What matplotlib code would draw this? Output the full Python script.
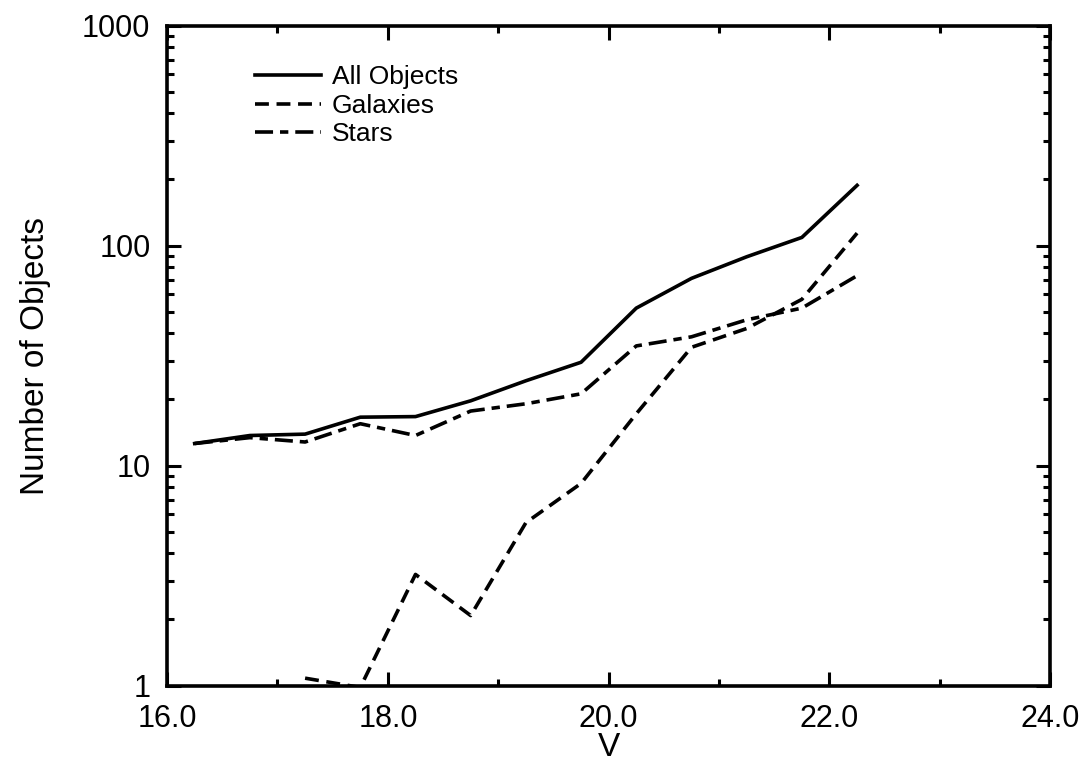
"""Number counts vs V magnitude: all objects, galaxies and stars (log scale)."""
import matplotlib
matplotlib.use("Agg")
import matplotlib.pyplot as plt
from matplotlib.ticker import FixedLocator, FixedFormatter, LogLocator, NullFormatter

# bin centres (V mag) and counts
v_all = [16.25, 16.75, 17.25, 17.75, 18.25, 18.75, 19.25, 19.75,
         20.25, 20.75, 21.25, 21.75, 22.25]
n_all = [12.6, 13.7, 13.9, 16.6, 16.7, 19.7, 24.3, 29.5, 52, 71, 89, 109, 188]

v_stars = v_all
n_stars = [12.6, 13.4, 12.8, 15.5, 13.7, 17.7, 19.1, 21.2, 35, 38.5, 46, 52, 73]

v_gal = [17.25, 17.75, 18.25, 18.75, 19.25, 19.75, 20.25, 20.75, 21.25, 21.75, 22.25]
n_gal = [1.08, 0.98, 3.2, 2.08, 5.5, 8.3, 17.2, 34.5, 42, 57, 114]

x_ticks = [16, 18, 20, 22, 24]
x_labels = ["16.0", "18.0", "20.0", "22.0", "24.0"]
y_ticks = [1, 10, 100, 1000]
y_labels = ["1", "10", "100", "1000"]

plt.rcParams["font.family"] = ["Liberation Sans", "DejaVu Sans"]
plt.rcParams["lines.scale_dashes"] = False

fig = plt.figure(figsize=(10.85, 7.79), dpi=100)
ax = fig.add_axes([0.154, 0.12, 0.814, 0.847])

lw = 2.6
ax.plot(v_all, n_all, color="black", lw=lw, label="All Objects")
ax.plot(v_gal, n_gal, color="black", lw=lw, dashes=(10, 5.5), label="Galaxies")
ax.plot(v_stars, n_stars, color="black", lw=lw, dashes=(13, 5, 6, 5), label="Stars")

ax.set_yscale("log")
ax.set_xlim(16, 24)
ax.set_ylim(1, 1000)

ax.xaxis.set_major_locator(FixedLocator(x_ticks))
ax.xaxis.set_major_formatter(FixedFormatter(x_labels))
ax.xaxis.set_minor_locator(FixedLocator([17, 19, 21, 23]))
ax.yaxis.set_major_locator(FixedLocator(y_ticks))
ax.yaxis.set_major_formatter(FixedFormatter(y_labels))
ax.yaxis.set_minor_locator(LogLocator(base=10, subs=range(2, 10)))
ax.yaxis.set_minor_formatter(NullFormatter())

ax.tick_params(which="both", direction="in", top=True, right=True,
               width=2.2, labelsize=22, color="black")
ax.tick_params(which="major", length=10)
ax.tick_params(which="minor", length=5)
ax.tick_params(axis="y", pad=12)
ax.tick_params(axis="x", pad=13)
for s in ax.spines.values():
    s.set_linewidth(2.6)

ax.set_xlabel("V", fontsize=24, labelpad=-1)
ax.set_ylabel("Number of Objects", fontsize=24, labelpad=22)

ax.legend(loc="upper left", bbox_to_anchor=(0.1, 0.94), frameon=False,
          fontsize=19, handlelength=2.5, handletextpad=0.4,
          labelspacing=0.17, borderpad=0, borderaxespad=0)

fig.savefig("out.png", dpi=100)
